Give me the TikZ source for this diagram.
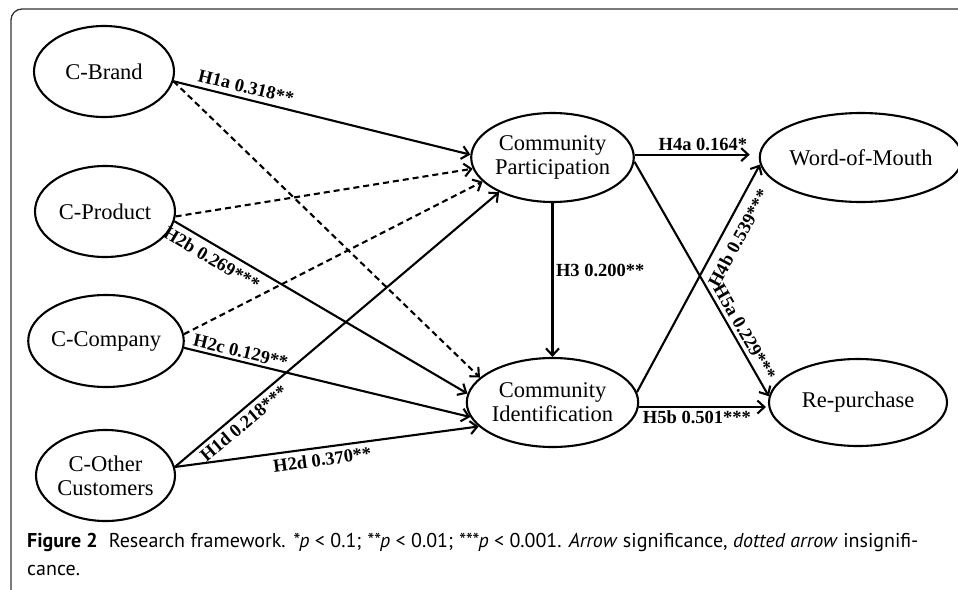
\documentclass[tikz,border=0pt]{standalone}
\usepackage{fontspec}
\setmainfont{Liberation Serif}
\newfontfamily\capfont{PT Sans}
\usetikzlibrary{arrows.meta,shapes.geometric}
\begin{document}
\begin{tikzpicture}[x=1pt,y=-1pt,
  ell/.style={draw, ellipse, line width=2.1pt, inner sep=0pt, align=center,
    font=\fontsize{22.5}{24}\selectfont},
  conn/.style={line width=2.1pt, -{Straight Barb[length=7pt,width=13pt]}},
  dconn/.style={conn, dash pattern=on 6pt off 4pt},
  lab/.style={font=\fontsize{18.5}{20}\selectfont\bfseries, inner sep=1.5pt}]
\useasboundingbox (0,0) rectangle (958,589);
\draw[rounded corners=11pt, line width=1.3pt, black!80] (11,9) rectangle (990,610);

\node[ell, minimum width=140, minimum height=91] (cb)  at (104,71.5) {C-Brand};
\node[ell, minimum width=140, minimum height=91] (cpd) at (105,211.5) {C-Product};
\node[ell, minimum width=140, minimum height=92] (cc)  at (106,341) {C-Company};
\node[ell, minimum width=139, minimum height=91] (co)  at (105.5,475.5) {C-Other\\Customers};
\node[ell, minimum width=151, minimum height=89] (cp)  at (552.5,157.5) {Community\\Participation};
\node[ell, minimum width=170, minimum height=89] (wm)  at (861,157.5) {Word-of-Mouth};
\node[ell, minimum width=151, minimum height=89] (ci)  at (552.5,402.5) {Community\\Identification};
\node[ell, minimum width=178, minimum height=87] (rp)  at (858,402.5) {Re-purchase};

% to Community Participation
\draw[conn] (cb.-8) -- node[lab, sloped, above=3pt, pos=0.235] {H1a 0.318**} (cp.178);
\draw[dconn] (cpd.-4) -- (cp.188);
\draw[dconn] (cc.5) -- (cp.199.5);
\draw[conn] (co.7) -- node[lab, sloped, below=2pt, pos=0.19] {H1d 0.218***} (cp.213);

% to Community Identification
\draw[dconn] (cb.-8) -- (ci.161.6);
\draw[conn] (cpd.-8) -- node[lab, sloped, below=4pt, pos=0.15] {H2b 0.269***} (ci.174);
\draw[conn] (cc.-5) -- node[lab, sloped, above=1pt, pos=0.19] {H2c 0.129**} (ci.190.4);
\draw[conn] (co.7) -- node[lab, sloped, below=3pt, pos=0.48] {H2d 0.370**} (ci.198);

% middle and outcomes
\draw[conn] (cp.south) -- node[lab, right=1pt, pos=0.44] {H3 0.200**} (ci.north);
\draw[conn, shorten >=9pt] (cp.2) -- node[lab, above=1pt, pos=0.55] {H4a 0.164*} (wm.west |- cp.2);
\draw[conn] (cp.-3.4) -- node[lab, sloped, above=2pt, pos=0.75] {H5a 0.229***} (rp.176);
\draw[conn] (ci.7) -- node[lab, sloped, below=7pt, pos=0.71] {H4b 0.539***} (wm.184);
\draw[conn, shorten >=2pt] (ci.-3) -- node[lab, below=1pt, pos=0.45] {H5b 0.501***} (rp.west |- ci.-3);

% caption
\node[anchor=base west, inner sep=0pt, font=\capfont\fontsize{20}{22}\selectfont] (cap1) at (27,547)
  {\textbf{Figure 2}\hspace{0.55em}Research framework. \textit{*p} {<} 0.1; \textit{**p} {<} 0.01; \textit{***p} {<} 0.001. \textit{Arrow} significance, \textit{dotted arrow} insignifi-};
\node[anchor=base west, inner sep=0pt, font=\capfont\fontsize{20}{22}\selectfont] (cap2) at (27,575) {cance.};
\end{tikzpicture}
\end{document}
